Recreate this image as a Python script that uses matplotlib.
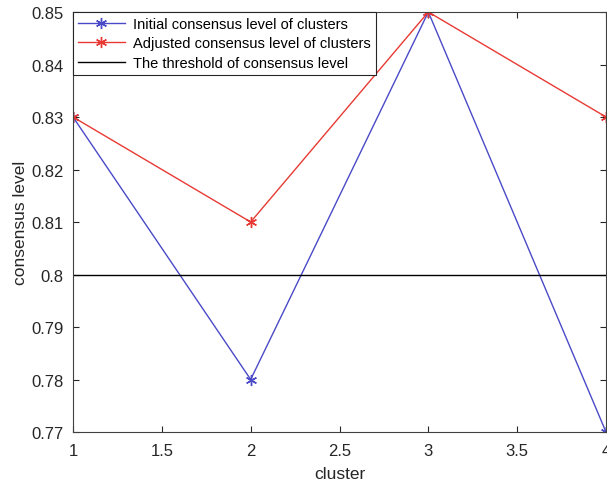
import numpy as np
import matplotlib
matplotlib.use('Agg')
from matplotlib import pyplot as plt

plt.rcParams['font.family'] = ['Liberation Sans', 'DejaVu Sans']

# data
clusters = [1, 2, 3, 4]
initial = [0.83, 0.78, 0.85, 0.77]
adjusted = [0.83, 0.81, 0.85, 0.83]
threshold = 0.8

xtick_labels = ['1', '1.5', '2', '2.5', '3', '3.5', '4']
ytick_labels = ['0.77', '0.78', '0.79', '0.8', '0.81', '0.82', '0.83', '0.84', '0.85']

fig = plt.figure(figsize=(6.07, 4.85), dpi=100)
ax = fig.add_axes([73/607, 52/485, 533/607, 420/485])

star = (6, 2, 0)  # matlab style asterisk
ax.plot(clusters, initial, color='#4a4ac8', marker=star, ms=8, mew=1, lw=1,
        label='Initial consensus level of clusters')
ax.plot(clusters, adjusted, color='#e83a34', marker=star, ms=8, mew=1, lw=1,
        label='Adjusted consensus level of clusters')
ax.axhline(threshold, color='black', lw=1, label='The threshold of consensus level')

ax.set_xlim(1, 4)
ax.set_ylim(0.77, 0.85)
ax.set_xticks(np.arange(1, 4.01, 0.5))
ax.set_xticklabels(xtick_labels)
ax.set_yticks(np.arange(0.77, 0.8501, 0.01))
ax.set_yticklabels(ytick_labels)
ax.tick_params(direction='in', top=True, right=True, labelsize=12, colors='#262626', length=4)
ax.tick_params(axis='x', pad=8)
ax.tick_params(axis='y', pad=7)
for s in ax.spines.values():
    s.set_color('#404040')

ax.set_xlabel('cluster', fontsize=12.5, color='#262626', labelpad=6)
ax.set_ylabel('consensus level', fontsize=12.5, color='#262626', labelpad=2)

leg = ax.legend(loc='upper left', fontsize=10.5, frameon=True, fancybox=False,
                borderaxespad=0, handlelength=3.2, borderpad=0.35, labelspacing=0.36,
                handletextpad=0.55, numpoints=1)
leg.get_frame().set_edgecolor('#262626')
leg.get_frame().set_linewidth(0.8)
leg.get_frame().set_alpha(1)

fig.savefig('out.png', dpi=100)
